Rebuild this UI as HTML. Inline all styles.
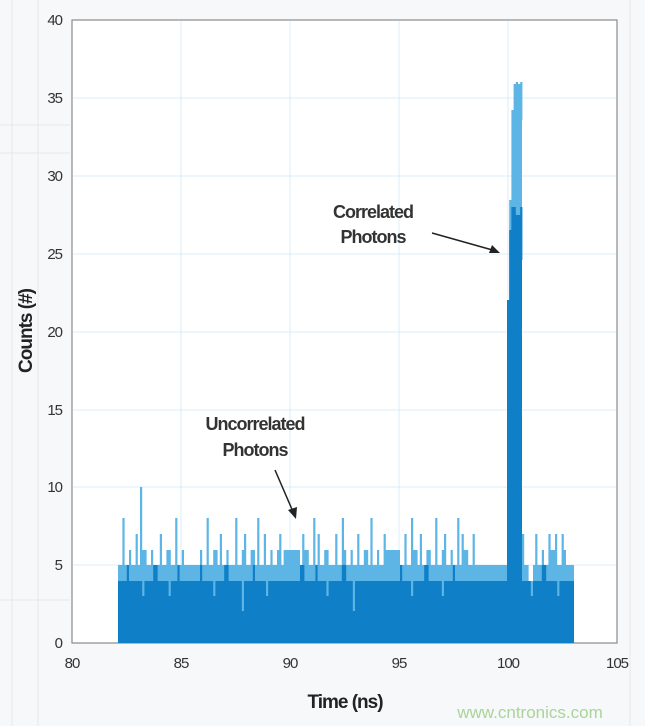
<!DOCTYPE html>
<html><head><meta charset="utf-8"><style>
body{margin:0;background:#fafbfc;}
svg{display:block;font-family:"Liberation Sans",sans-serif;}
</style></head><body>
<svg width="645" height="726" xmlns="http://www.w3.org/2000/svg">
<rect width="645" height="726" fill="#f7f8f9"/>
<g stroke="#e6e9ec" stroke-width="1">
<line x1="12" y1="0" x2="12" y2="726"/><line x1="38" y1="0" x2="38" y2="726"/>
<line x1="0" y1="125" x2="70" y2="125"/><line x1="0" y1="153" x2="70" y2="153"/>
<line x1="0" y1="600" x2="70" y2="600"/><line x1="630" y1="0" x2="630" y2="726"/>
</g>
<rect x="72" y="20" width="545" height="623" fill="#fff" stroke="#8a8a8a" stroke-width="1.2"/>
<g stroke="#d8ecf7" stroke-width="1">
<line x1="181" y1="21" x2="181" y2="642"/><line x1="290" y1="21" x2="290" y2="642"/>
<line x1="399" y1="21" x2="399" y2="642"/><line x1="508" y1="21" x2="508" y2="642"/>
<line x1="73" y1="565" x2="616" y2="565"/><line x1="73" y1="487" x2="616" y2="487"/>
<line x1="73" y1="410" x2="616" y2="410"/><line x1="73" y1="332" x2="616" y2="332"/>
<line x1="73" y1="254" x2="616" y2="254"/><line x1="73" y1="176" x2="616" y2="176"/>
<line x1="73" y1="98" x2="616" y2="98"/>
</g>
<path fill="#5db5e6" d="M118,643 V565 h4.4 V518 h2.2 V565 h4.4 V550 h2.2 V565 h4.4 V534 h2.2 V565 h2.2 V487 h2.2 V550 h4.4 V565 h4.4 V550 h2.2 V565 h6.6 V534 h2.2 V565 h4.4 V550 h4.4 V565 h4.4 V518 h2.2 V565 h4.4 V550 h2.2 V565 H200
V550 h2.2 V565 h4.4 V518 h2.2 V565 h4.4 V550 h4.4 V565 h2.2 V534 h2.2 V565 h4.4 V550 h2.2 V565 h6.6 V518 h2.2 V565 h4.4 V550 h2.2 V534 h2.2 V565 h4.4 V550 h4.4 V565 h2.2 V518 h2.2 V565 h4.4 V534 h2.2 V565 h4.4 V550 h2.2 V565 h4.4 V550 h2.2 V534 h2.2 V565 h2.2 V550 H300
V565 h2.2 V534 h2.2 V550 h4.4 V565 h4.4 V518 h2.2 V565 h2.2 V534 h2.2 V565 h4.4 V550 h4.4 V565 h6.6 V534 h2.2 V565 h4.4 V518 h2.2 V550 h2.2 V565 h4.4 V550 h2.2 V565 h4.4 V534 h2.2 V565 h4.4 V550 h4.4 V565 h2.2 V518 h2.2 V565 h4.4 V550 h2.2 V565 h4.4 V534 h2.2 V550 H400
V565 h4.4 V534 h2.2 V565 h4.4 V518 h2.2 V550 h4.4 V565 h2.2 V534 h2.2 V565 h4.4 V550 h4.4 V565 h4.4 V518 h2.2 V565 h4.4 V550 h2.2 V534 h2.2 V565 h4.4 V550 h2.2 V565 h4.4 V518 h2.2 V565 h2.2 V534 h2.2 V550 h4.4 V565 h4.4 V534 h2.2 V565 H507
V350 h2.2 V200 h2.2 V110 h2.2 V84 h2.2 V82 h2.2 V84 h2.2 V82 h2.2 V120 H522
V534 h2.2 V565 h4.4 V581 h4.4 V565 h2.2 V534 h2.2 V565 h4.4 V550 h2.2 V565 h4.4 V534 h2.2 V550 h4.4 V534 h2.2 V565 h4.4 V534 h2.2 V550 h2.2 V565 H574 V643 Z"/>
<path fill="#0f80c8" d="M118,643 V581 h8.8 V565 h2.2 V581 h13.2 V596 h2.2 V581 h8.8 V565 h4.4 V581 h11 V596 h2.2 V581 h6.6 V565 h2.2 V581 H200
V565 h2.2 V581 h11 V596 h2.2 V581 h8.8 V565 h4.4 V581 h13.2 V611 h2.2 V581 h8.8 V565 h2.2 V581 h11 V596 h2.2 V581 H300
V565 h4.4 V581 h11 V565 h2.2 V581 h8.8 V596 h2.2 V581 h13.2 V565 h4.4 V581 h6.6 V611 h2.2 V581 H400
V565 h2.2 V581 h8.8 V596 h2.2 V581 h11 V565 h4.4 V581 h13.2 V596 h2.2 V581 h8.8 V565 h2.2 V581 H507
V300 h2.2 V230 h2.2 V207 h4.4 V215 h4.4 V207 h2.2 V260 H522
V581 h8.8 V596 h2.2 V581 h8.8 V565 h4.4 V581 h11 V596 h2.2 V581 H574 V643 Z"/>
<g font-size="15" fill="#333" letter-spacing="-1" text-anchor="middle">
<text x="72" y="668">80</text><text x="181" y="668">85</text><text x="290" y="668">90</text>
<text x="399" y="668">95</text><text x="508" y="668">100</text><text x="617" y="668">105</text>
</g>
<g font-size="15" fill="#333" letter-spacing="-1" text-anchor="end">
<text x="62" y="648">0</text><text x="62" y="570">5</text><text x="62" y="492">10</text>
<text x="62" y="415">15</text><text x="62" y="337">20</text><text x="62" y="259">25</text>
<text x="62" y="181">30</text><text x="62" y="103">35</text><text x="62" y="25">40</text>
</g>
<text x="32" y="331" font-size="19" font-weight="bold" fill="#222" text-anchor="middle" transform="rotate(-90 32 331)" letter-spacing="-1">Counts (#)</text>
<text x="345" y="708" font-size="19" font-weight="bold" fill="#222" text-anchor="middle" letter-spacing="-1">Time (ns)</text>
<text x="373" y="218" font-size="18" font-weight="bold" fill="#333" text-anchor="middle" letter-spacing="-1">Correlated</text>
<text x="373" y="243" font-size="18" font-weight="bold" fill="#333" text-anchor="middle" letter-spacing="-1">Photons</text>
<text x="255" y="430" font-size="18" font-weight="bold" fill="#333" text-anchor="middle" letter-spacing="-1">Uncorrelated</text>
<text x="255" y="456" font-size="18" font-weight="bold" fill="#333" text-anchor="middle" letter-spacing="-1">Photons</text>
<line x1="432" y1="233" x2="496" y2="251" stroke="#222" stroke-width="1.5"/>
<polygon points="500,253 489,253 492,245" fill="#222"/>
<line x1="275" y1="470" x2="294" y2="514" stroke="#222" stroke-width="1.5"/>
<polygon points="296,519 288,510 297,507" fill="#222"/>
<text x="530" y="718" font-size="17" fill="#a9d49a" text-anchor="middle">www.cntronics.com</text>
</svg>
</body></html>
